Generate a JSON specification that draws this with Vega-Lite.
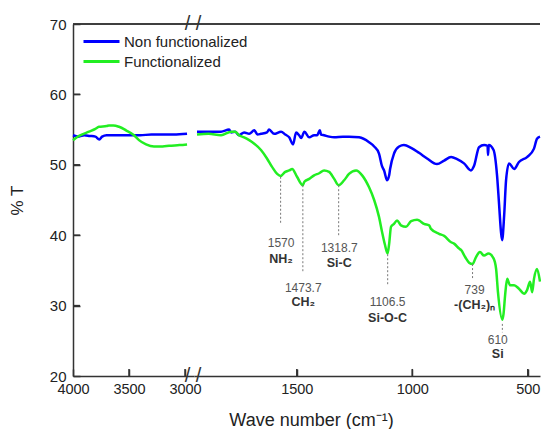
{
  "$schema": "https://vega.github.io/schema/vega-lite/v6.json",
  "background": "white",
  "padding": {"left": 8, "top": 14, "right": 0, "bottom": 0},
  "spacing": 0,
  "bounds": "flush",
  "config": {
    "view": {"stroke": null},
    "font": "Liberation Sans",
    "axis": {
      "domainColor": "#333333", "domainWidth": 1.5,
      "tickColor": "#333333", "tickWidth": 1.5, "tickSize": -7,
      "labelFont": "Liberation Sans", "labelFontSize": 15, "labelColor": "#222222",
      "labelFlush": false, "grid": false, "format": "d",
      "titleFont": "Liberation Sans", "titleFontWeight": "normal", "titleColor": "#222222"
    },
    "legend": {
      "symbolType": "M-2,0H2", "symbolStrokeWidth": 3, "symbolSize": 324,
      "labelFont": "Liberation Sans", "labelFontSize": 15, "labelColor": "#222222",
      "labelOffset": 12, "rowPadding": 1
    }
  },
  "datasets": {
    "spec": [
      {"s":"Non functionalized","wn":4000,"t":54.2},{"s":"Non functionalized","wn":3950,"t":54.0},{"s":"Non functionalized","wn":3900,"t":54.2},{"s":"Non functionalized","wn":3850,"t":54.1},{"s":"Non functionalized","wn":3800,"t":54.0},{"s":"Non functionalized","wn":3765,"t":53.6},{"s":"Non functionalized","wn":3740,"t":54.0},{"s":"Non functionalized","wn":3700,"t":54.2},{"s":"Non functionalized","wn":3600,"t":54.2},{"s":"Non functionalized","wn":3500,"t":54.2},{"s":"Non functionalized","wn":3400,"t":54.2},{"s":"Non functionalized","wn":3300,"t":54.3},{"s":"Non functionalized","wn":3200,"t":54.3},{"s":"Non functionalized","wn":3100,"t":54.3},{"s":"Non functionalized","wn":2982,"t":54.4},
      {"s":"Non functionalized","wn":1932,"t":54.7},{"s":"Non functionalized","wn":1882,"t":54.7},{"s":"Non functionalized","wn":1828,"t":54.7},{"s":"Non functionalized","wn":1793,"t":55.0},{"s":"Non functionalized","wn":1784,"t":54.6},{"s":"Non functionalized","wn":1767,"t":54.7},{"s":"Non functionalized","wn":1750,"t":54.2},{"s":"Non functionalized","wn":1728,"t":54.6},{"s":"Non functionalized","wn":1706,"t":54.4},{"s":"Non functionalized","wn":1684,"t":54.9},{"s":"Non functionalized","wn":1670,"t":54.3},{"s":"Non functionalized","wn":1655,"t":54.4},{"s":"Non functionalized","wn":1629,"t":54.6},{"s":"Non functionalized","wn":1620,"t":55.0},{"s":"Non functionalized","wn":1598,"t":54.4},{"s":"Non functionalized","wn":1568,"t":54.7},{"s":"Non functionalized","wn":1550,"t":54.3},{"s":"Non functionalized","wn":1533,"t":53.9},{"s":"Non functionalized","wn":1516,"t":52.9},{"s":"Non functionalized","wn":1503,"t":54.6},{"s":"Non functionalized","wn":1490,"t":54.2},{"s":"Non functionalized","wn":1481,"t":53.8},{"s":"Non functionalized","wn":1467,"t":54.7},{"s":"Non functionalized","wn":1446,"t":53.9},{"s":"Non functionalized","wn":1425,"t":54.2},{"s":"Non functionalized","wn":1412,"t":54.2},{"s":"Non functionalized","wn":1400,"t":54.9},{"s":"Non functionalized","wn":1395,"t":54.3},{"s":"Non functionalized","wn":1382,"t":54.2},{"s":"Non functionalized","wn":1360,"t":54.0},{"s":"Non functionalized","wn":1338,"t":53.9},{"s":"Non functionalized","wn":1300,"t":54.0},{"s":"Non functionalized","wn":1274,"t":54.0},{"s":"Non functionalized","wn":1230,"t":53.9},{"s":"Non functionalized","wn":1187,"t":53.2},{"s":"Non functionalized","wn":1165,"t":52.6},{"s":"Non functionalized","wn":1144,"t":51.6},{"s":"Non functionalized","wn":1131,"t":49.8},{"s":"Non functionalized","wn":1122,"t":49.2},{"s":"Non functionalized","wn":1109,"t":47.8},{"s":"Non functionalized","wn":1100,"t":48.5},{"s":"Non functionalized","wn":1096,"t":49.4},{"s":"Non functionalized","wn":1079,"t":51.6},{"s":"Non functionalized","wn":1057,"t":52.6},{"s":"Non functionalized","wn":1036,"t":52.8},{"s":"Non functionalized","wn":1005,"t":52.4},{"s":"Non functionalized","wn":971,"t":51.7},{"s":"Non functionalized","wn":936,"t":50.9},{"s":"Non functionalized","wn":893,"t":50.1},{"s":"Non functionalized","wn":862,"t":50.6},{"s":"Non functionalized","wn":832,"t":51.1},{"s":"Non functionalized","wn":806,"t":50.8},{"s":"Non functionalized","wn":776,"t":50.2},{"s":"Non functionalized","wn":746,"t":49.2},{"s":"Non functionalized","wn":732,"t":49.9},{"s":"Non functionalized","wn":711,"t":52.5},{"s":"Non functionalized","wn":689,"t":52.8},{"s":"Non functionalized","wn":674,"t":52.7},{"s":"Non functionalized","wn":672,"t":51.4},{"s":"Non functionalized","wn":669,"t":52.8},{"s":"Non functionalized","wn":648,"t":52.1},{"s":"Non functionalized","wn":633,"t":48.5},{"s":"Non functionalized","wn":624,"t":44.3},{"s":"Non functionalized","wn":616,"t":40.5},{"s":"Non functionalized","wn":611,"t":39.3},{"s":"Non functionalized","wn":602,"t":42.9},{"s":"Non functionalized","wn":594,"t":47.8},{"s":"Non functionalized","wn":581,"t":50.2},{"s":"Non functionalized","wn":559,"t":49.4},{"s":"Non functionalized","wn":538,"t":50.4},{"s":"Non functionalized","wn":503,"t":51.1},{"s":"Non functionalized","wn":473,"t":52.3},{"s":"Non functionalized","wn":460,"t":53.7},{"s":"Non functionalized","wn":447,"t":54.0},
      {"s":"Functionalized","wn":4000,"t":53.5},{"s":"Functionalized","wn":3946,"t":54.1},{"s":"Functionalized","wn":3857,"t":54.7},{"s":"Functionalized","wn":3800,"t":55.1},{"s":"Functionalized","wn":3768,"t":55.4},{"s":"Functionalized","wn":3700,"t":55.5},{"s":"Functionalized","wn":3679,"t":55.6},{"s":"Functionalized","wn":3640,"t":55.6},{"s":"Functionalized","wn":3589,"t":55.4},{"s":"Functionalized","wn":3527,"t":54.9},{"s":"Functionalized","wn":3455,"t":54.2},{"s":"Functionalized","wn":3411,"t":53.5},{"s":"Functionalized","wn":3348,"t":52.9},{"s":"Functionalized","wn":3277,"t":52.6},{"s":"Functionalized","wn":3200,"t":52.6},{"s":"Functionalized","wn":3143,"t":52.7},{"s":"Functionalized","wn":3050,"t":52.8},{"s":"Functionalized","wn":2982,"t":52.9},
      {"s":"Functionalized","wn":1932,"t":54.3},{"s":"Functionalized","wn":1882,"t":54.4},{"s":"Functionalized","wn":1828,"t":54.2},{"s":"Functionalized","wn":1784,"t":54.7},{"s":"Functionalized","wn":1767,"t":54.7},{"s":"Functionalized","wn":1750,"t":54.2},{"s":"Functionalized","wn":1728,"t":53.9},{"s":"Functionalized","wn":1706,"t":53.5},{"s":"Functionalized","wn":1684,"t":53.0},{"s":"Functionalized","wn":1655,"t":52.1},{"s":"Functionalized","wn":1629,"t":50.9},{"s":"Functionalized","wn":1607,"t":49.7},{"s":"Functionalized","wn":1585,"t":48.7},{"s":"Functionalized","wn":1570,"t":48.4},{"s":"Functionalized","wn":1550,"t":49.0},{"s":"Functionalized","wn":1533,"t":49.2},{"s":"Functionalized","wn":1520,"t":49.4},{"s":"Functionalized","wn":1499,"t":48.3},{"s":"Functionalized","wn":1474,"t":47.1},{"s":"Functionalized","wn":1467,"t":47.6},{"s":"Functionalized","wn":1446,"t":48.0},{"s":"Functionalized","wn":1425,"t":48.5},{"s":"Functionalized","wn":1403,"t":48.8},{"s":"Functionalized","wn":1382,"t":49.2},{"s":"Functionalized","wn":1360,"t":49.0},{"s":"Functionalized","wn":1338,"t":48.0},{"s":"Functionalized","wn":1319,"t":47.1},{"s":"Functionalized","wn":1295,"t":47.8},{"s":"Functionalized","wn":1274,"t":48.7},{"s":"Functionalized","wn":1243,"t":49.2},{"s":"Functionalized","wn":1217,"t":48.5},{"s":"Functionalized","wn":1187,"t":46.8},{"s":"Functionalized","wn":1165,"t":45.0},{"s":"Functionalized","wn":1144,"t":42.6},{"s":"Functionalized","wn":1131,"t":40.5},{"s":"Functionalized","wn":1118,"t":38.6},{"s":"Functionalized","wn":1107,"t":37.4},{"s":"Functionalized","wn":1100,"t":38.8},{"s":"Functionalized","wn":1092,"t":41.2},{"s":"Functionalized","wn":1079,"t":41.6},{"s":"Functionalized","wn":1066,"t":42.1},{"s":"Functionalized","wn":1049,"t":41.4},{"s":"Functionalized","wn":1027,"t":41.2},{"s":"Functionalized","wn":1005,"t":42.0},{"s":"Functionalized","wn":979,"t":42.2},{"s":"Functionalized","wn":971,"t":42.1},{"s":"Functionalized","wn":949,"t":41.6},{"s":"Functionalized","wn":927,"t":41.4},{"s":"Functionalized","wn":919,"t":40.9},{"s":"Functionalized","wn":884,"t":40.2},{"s":"Functionalized","wn":862,"t":39.9},{"s":"Functionalized","wn":832,"t":39.0},{"s":"Functionalized","wn":819,"t":38.8},{"s":"Functionalized","wn":797,"t":38.1},{"s":"Functionalized","wn":789,"t":37.9},{"s":"Functionalized","wn":771,"t":36.9},{"s":"Functionalized","wn":754,"t":36.1},{"s":"Functionalized","wn":739,"t":35.9},{"s":"Functionalized","wn":724,"t":36.9},{"s":"Functionalized","wn":707,"t":37.6},{"s":"Functionalized","wn":689,"t":37.1},{"s":"Functionalized","wn":670,"t":37.4},{"s":"Functionalized","wn":648,"t":36.7},{"s":"Functionalized","wn":637,"t":35.2},{"s":"Functionalized","wn":629,"t":31.9},{"s":"Functionalized","wn":610,"t":28.0},{"s":"Functionalized","wn":605,"t":28.8},{"s":"Functionalized","wn":598,"t":31.5},{"s":"Functionalized","wn":589,"t":33.8},{"s":"Functionalized","wn":577,"t":32.9},{"s":"Functionalized","wn":559,"t":32.9},{"s":"Functionalized","wn":538,"t":32.4},{"s":"Functionalized","wn":516,"t":31.7},{"s":"Functionalized","wn":503,"t":32.2},{"s":"Functionalized","wn":490,"t":33.4},{"s":"Functionalized","wn":481,"t":31.9},{"s":"Functionalized","wn":473,"t":33.8},{"s":"Functionalized","wn":460,"t":35.2},{"s":"Functionalized","wn":447,"t":33.4}
    ],
    "notes": [
      {"wn":1570,"lx":1568,"top":48.3,"bot":41.6,"ny":38.9,"namey":36.6,"num":"1570","name":"NH₂"},
      {"wn":1473.7,"lx":1472,"top":47.1,"bot":34.8,"ny":32.5,"namey":30.5,"num":"1473.7","name":"CH₂"},
      {"wn":1318.7,"lx":1316,"top":47.1,"bot":40.0,"ny":38.2,"namey":36.05,"num":"1318.7","name":"Si-C"},
      {"wn":1106.5,"lx":1107,"top":37.3,"bot":32.9,"ny":30.5,"namey":28.2,"num":"1106.5","name":"Si-O-C"},
      {"wn":739,"lx":730,"top":35.9,"bot":33.8,"ny":32.2,"namey":30.1,"num":"739","name":"-(CH₂)ₙ"},
      {"wn":610,"lx":630,"top":27.4,"bot":26.2,"ny":25.1,"namey":23.1,"num":"610","name":"Si"}
    ],
    "breaks": [{"y": 70}, {"y": 20}],
    "yticks": [{"v": 30, "a": 4000, "b": 3937}, {"v": 40, "a": 4000, "b": 3937}, {"v": 50, "a": 4000, "b": 3937}, {"v": 60, "a": 4000, "b": 3937}],
    "lticks": [{"v": 3500, "a": 20, "b": 21}, {"v": 3000, "a": 20, "b": 21}],
    "rticks": [{"v": 1500, "a": 20, "b": 21}, {"v": 1000, "a": 20, "b": 21}, {"v": 500, "a": 20, "b": 21}]
  },
  "hconcat": [
    {
      "width": 121,
      "height": 352,
      "layer": [
        {
          "data": {"name": "spec"},
          "transform": [{"filter": "datum.wn > 2500"}],
          "mark": {"type": "line", "strokeWidth": 2.5, "interpolate": "monotone"},
          "encoding": {
            "x": {"field": "wn", "type": "quantitative", "scale": {"domain": [2920, 4000], "reverse": true, "nice": false, "zero": false}, "axis": {"values": [4000, 3500, 3000], "title": null, "labelPadding": 13, "labelFontSize": 14.5}},
            "y": {"field": "t", "type": "quantitative", "scale": {"domain": [20, 70], "nice": false, "zero": false}, "axis": {"values": [20, 30, 40, 50, 60, 70], "title": "% T", "titleFontSize": 17, "titlePadding": 23, "labelPadding": 14}},
            "color": {"field": "s", "type": "nominal", "scale": {"domain": ["Non functionalized", "Functionalized"], "range": ["#0000ff", "#22ee22"]}, "legend": {"title": null, "orient": "none", "legendX": 18, "legendY": 7}}
          }
        },
        {
          "data": {"name": "yticks"},
          "mark": {"type": "rule", "strokeWidth": 1.5, "color": "#333333"},
          "encoding": {"x": {"field": "a", "type": "quantitative"}, "x2": {"field": "b"}, "y": {"field": "v", "type": "quantitative"}}
        },
        {
          "data": {"name": "lticks"},
          "mark": {"type": "rule", "strokeWidth": 1.5, "color": "#333333"},
          "encoding": {"x": {"field": "v", "type": "quantitative"}, "y": {"field": "a", "type": "quantitative"}, "y2": {"field": "b"}}
        },
        {
          "data": {"name": "breaks"},
          "mark": {"type": "rule", "color": "#333333", "strokeWidth": 1.5},
          "encoding": {"y": {"datum": 70}}
        },
        {
          "data": {"name": "breaks"},
          "mark": {"type": "text", "text": "/ /", "fontSize": 20, "color": "#333333", "align": "center", "baseline": "middle", "dx": -1},
          "encoding": {"x": {"datum": 2920}, "y": {"field": "y", "type": "quantitative"}}
        }
      ]
    },
    {
      "width": 346,
      "height": 352,
      "layer": [
        {
          "data": {"name": "spec"},
          "transform": [{"filter": "datum.wn < 2500"}],
          "mark": {"type": "line", "strokeWidth": 2.5, "interpolate": "monotone"},
          "encoding": {
            "x": {"field": "wn", "type": "quantitative", "scale": {"domain": [447, 1945], "reverse": true, "nice": false, "zero": false}, "axis": {"values": [1500, 1000, 500], "title": "Wave number (cm⁻¹)", "titleFontSize": 18, "titleX": 117, "titleY": 44, "titleAlign": "center", "titleBaseline": "middle", "labelPadding": 13, "labelFontSize": 14.5}},
            "y": {"field": "t", "type": "quantitative", "scale": {"domain": [20, 70], "nice": false, "zero": false}, "axis": null},
            "color": {"field": "s", "type": "nominal"}
          }
        },
        {
          "data": {"name": "rticks"},
          "mark": {"type": "rule", "strokeWidth": 1.5, "color": "#333333"},
          "encoding": {"x": {"field": "v", "type": "quantitative"}, "y": {"field": "a", "type": "quantitative"}, "y2": {"field": "b"}}
        },
        {
          "data": {"name": "notes"},
          "mark": {"type": "rule", "color": "#777777", "strokeWidth": 1, "strokeDash": [2, 2]},
          "encoding": {
            "x": {"field": "wn", "type": "quantitative"},
            "y": {"field": "top", "type": "quantitative"},
            "y2": {"field": "bot"}
          }
        },
        {
          "data": {"name": "notes"},
          "mark": {"type": "text", "fontSize": 12, "color": "#555555", "align": "center", "baseline": "middle"},
          "encoding": {
            "x": {"field": "lx", "type": "quantitative"},
            "y": {"field": "ny", "type": "quantitative"},
            "text": {"field": "num"}
          }
        },
        {
          "data": {"name": "notes"},
          "mark": {"type": "text", "fontSize": 12.5, "fontWeight": "bold", "color": "#333333", "align": "center", "baseline": "middle"},
          "encoding": {
            "x": {"field": "lx", "type": "quantitative"},
            "y": {"field": "namey", "type": "quantitative"},
            "text": {"field": "name"}
          }
        },
        {
          "data": {"name": "breaks"},
          "mark": {"type": "rule", "color": "#333333", "strokeWidth": 1.5},
          "encoding": {"y": {"datum": 70}}
        }
      ]
    }
  ]
}
